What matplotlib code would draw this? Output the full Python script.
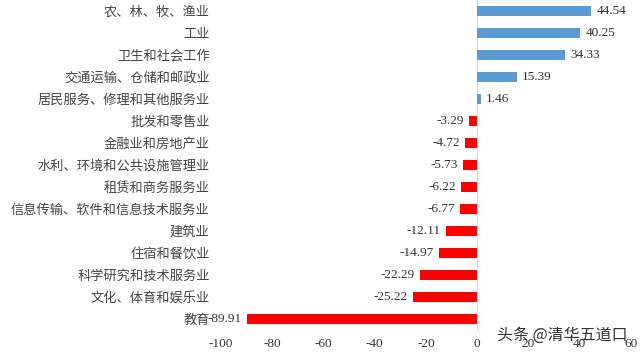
import matplotlib
matplotlib.use('Agg')
import matplotlib.pyplot as plt

categories = ['农、林、牧、渔业', '工业', '卫生和社会工作', '交通运输、仓储和邮政业',
              '居民服务、修理和其他服务业', '批发和零售业', '金融业和房地产业',
              '水利、环境和公共设施管理业', '租赁和商务服务业', '信息传输、软件和信息技术服务业',
              '建筑业', '住宿和餐饮业', '科学研究和技术服务业', '文化、体育和娱乐业', '教育']
values = [44.54, 40.25, 34.33, 15.39, 1.46, -3.29, -4.72, -5.73, -6.22, -6.77,
          -12.11, -14.97, -22.29, -25.22, -89.91]
xticks = [-100, -80, -60, -40, -20, 0, 20, 40, 60]

fam = ['Liberation Serif', 'Noto Sans CJK SC']
plt.rcParams['font.family'] = fam

fig = plt.figure(figsize=(6.4, 3.53), dpi=100)
ax = fig.add_axes([0.345, 0.065, 0.641, 0.935])

colors = ['#5B9BD5' if v > 0 else '#FF0000' for v in values]
ypos = list(range(len(categories)))
ax.barh(ypos, values, height=0.45, color=colors)

for y, v in zip(ypos, values):
    if v > 0:
        ax.text(v + 2, y, '%.2f' % v, va='center', ha='left', fontsize=9.5, color='#333333')
    else:
        ax.text(v - 2, y, '%.2f' % v, va='center', ha='right', fontsize=9.5, color='#333333')

ax.set_yticks(ypos)
ax.set_yticklabels(categories, fontsize=9.5, color='#444444')
ax.set_ylim(14.5, -0.5)
ax.set_xlim(-100, 60)
ax.set_xticks(xticks)
ax.set_xticklabels([str(t) for t in xticks], fontsize=9.5, color='#333333')
ax.tick_params(length=0, pad=6)
ax.tick_params(axis='y', pad=8)

for s in ['top', 'right', 'bottom', 'left']:
    ax.spines[s].set_visible(False)
ax.axvline(0, color='#D9D9D9', lw=0.8, zorder=0)

fig.text(0.98, 0.05, '头条 @清华五道口', ha='right', va='center', fontsize=11.5,
         color='#333333', family=['Noto Sans CJK SC', 'DejaVu Sans'])

plt.savefig('out.png', dpi=100)
